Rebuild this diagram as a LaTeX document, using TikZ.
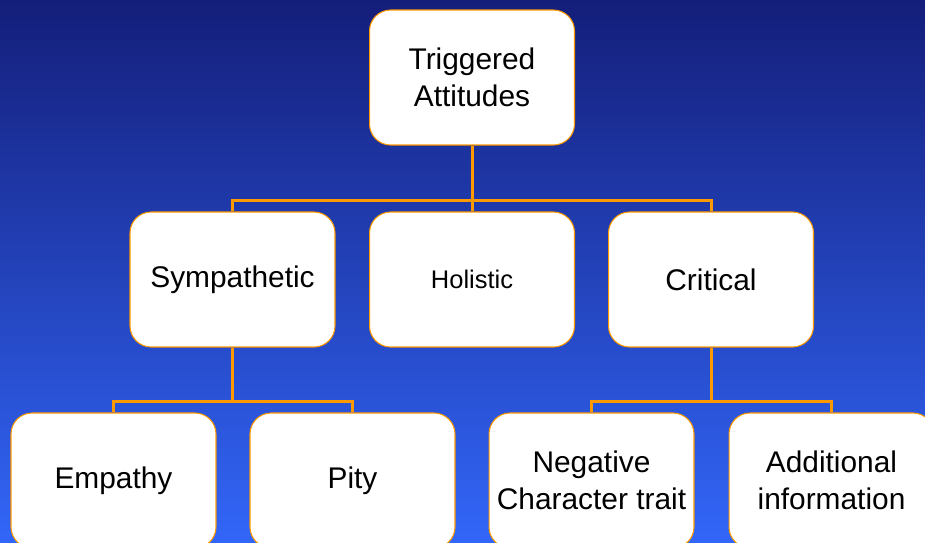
\documentclass[tikz,border=0pt]{standalone}
\usepackage{fontspec}
\setmainfont{Liberation Sans}
\definecolor{bgTop}{RGB}{20,30,122}
\definecolor{bgBottom}{RGB}{50,102,248}
\definecolor{linkOrange}{RGB}{255,153,0}

\begin{document}
\begin{tikzpicture}[x=0.02cm, y=-0.02cm,
    box/.style={draw=linkOrange, line width=0.6pt, fill=white, rounded corners=0.42cm,
        minimum width=4.1cm, minimum height=2.7cm, inner sep=0pt, align=center,
        font=\fontsize{17}{21}\selectfont},
    link/.style={draw=linkOrange, line width=1.7pt}]

% Background
\clip (0,0) rectangle (925,542);
\shade [top color=bgTop, bottom color=bgBottom] (0,0) rectangle (925,542);

% Boxes
\node [box] (trig) at (472,77.5) {Triggered\\Attitudes};
\node [box] (symp) at (232.5,279.5) {Sympathetic};
\node [box, font=\fontsize{14.5}{18}\selectfont] (holi) at (472,279.5) {Holistic};
\node [box] (crit) at (711,279.5) {Critical};
\node [box] (empa) at (113.5,480.5) {Empathy};
\node [box] (pity) at (352.5,480.5) {Pity};
\node [box] (nega) at (591.5,480.5) {Negative\\Character trait};
\node [box] (addi) at (831.5,480.5) {Additional\\information};

% Junctions
\coordinate (bus1) at (472,200);
\coordinate (bus2) at (232.5,401);
\coordinate (bus3) at (711,401);

% Connectors
\draw [link] (trig.south) -- (holi.north);
\draw [link] (symp.north) |- (bus1) -| (crit.north);
\draw [link] (symp.south) -- (bus2);
\draw [link] (empa.north) |- (bus2) -| (pity.north);
\draw [link] (crit.south) -- (bus3);
\draw [link] (nega.north) |- (bus3) -| (addi.north);

\end{tikzpicture}
\end{document}
